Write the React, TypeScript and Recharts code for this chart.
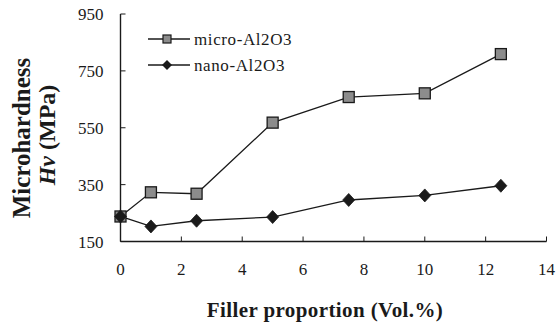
import React from "react";
import { LineChart, Line, XAxis, YAxis } from "recharts";

const fillerProportion = [0, 1, 2.5, 5, 7.5, 10, 12.5];
const microAl2O3 = [238, 323, 318, 568, 658, 671, 809];
const nanoAl2O3 = [238, 203, 223, 236, 296, 312, 346];
const xTicks = [0, 2, 4, 6, 8, 10, 12, 14];
const yTicks = [150, 350, 550, 750, 950];
const seriesNames = ["micro-Al2O3", "nano-Al2O3"];

const data = fillerProportion.map((x, i) => ({
  x,
  micro: microAl2O3[i],
  nano: nanoAl2O3[i],
}));

const FONT = "'Liberation Serif', 'Times New Roman', serif";
const INK = "#1a1a1a";

const SquareDot = (props: any) => {
  const { cx, cy, index } = props;
  if (cx == null || cy == null) return null;
  return (
    <rect key={`sq-${index}`} x={cx - 5.5} y={cy - 5.5} width={11} height={11}
      fill="#8c8c8c" stroke={INK} strokeWidth={1.3} />
  );
};

const DiamondDot = (props: any) => {
  const { cx, cy, index } = props;
  if (cx == null || cy == null) return null;
  return (
    <path key={`dm-${index}`} d={`M${cx},${cy - 6.5} L${cx + 6},${cy} L${cx},${cy + 6.5} L${cx - 6},${cy} Z`}
      fill={INK} stroke={INK} strokeWidth={0.8} />
  );
};

// legend drawn inside the plot, top-left
const LegendSvg = () => (
  <g fontFamily={FONT} fontSize={17} fontWeight="normal" fill={INK}>
    <line x1={148} y1={39} x2={190} y2={39} stroke={INK} strokeWidth={1.3} />
    <rect x={163} y={35} width={8} height={8} fill="#8c8c8c" stroke={INK} strokeWidth={1.2} />
    <text x={194} y={39} dominantBaseline="central" letterSpacing={0.6}>{seriesNames[0]}</text>
    <line x1={148} y1={65} x2={190} y2={65} stroke={INK} strokeWidth={1.3} />
    <path d="M167,60 L172,65 L167,70 L162,65 Z" fill={INK} />
    <text x={194} y={65} dominantBaseline="central" letterSpacing={0.6}>{seriesNames[1]}</text>
  </g>
);

const YTitle = () => (
  <g>
    <g fontFamily={FONT} fontWeight="bold" fill={INK}>
      <text x={21} y={138} fontSize={25} textAnchor="middle" dominantBaseline="central"
        transform="rotate(-90, 21, 138)">Microhardness</text>
      <text x={47} y={135} fontSize={24} textAnchor="middle" dominantBaseline="central"
        transform="rotate(-90, 47, 135)">
        <tspan fontStyle="italic">Hv</tspan> (MPa)
      </text>
    </g>
    <LegendSvg />
  </g>
);

const XTitle = () => (
  <text x={325} y={317} fontFamily={FONT} fontWeight="bold" fontSize={21} fill={INK}
    textAnchor="middle" letterSpacing={0.4}>Filler proportion (Vol.%)</text>
);

export default function App() {
  const tickStyle = { fontFamily: FONT, fontSize: 17, fill: INK };
  return (
    <div style={{ fontFamily: FONT }}>
      <style>{"body{margin:0;background:#fff} .recharts-cartesian-axis-tick-value{font-family:'Liberation Serif',serif}"}</style>
      <LineChart width={556} height={324} data={data} style={{ fontFamily: FONT }}
        margin={{ top: 14, right: 9.5, bottom: 0, left: 0 }}>
        <XAxis dataKey="x" type="number" domain={[0, 14]} ticks={xTicks}
          height={82.5} tick={tickStyle} tickSize={-5} tickMargin={26}
          axisLine={{ stroke: INK, strokeWidth: 1.4 }} tickLine={{ stroke: INK }}
          label={{ content: () => <XTitle /> }} />
        <XAxis xAxisId="top" dataKey="x" type="number" domain={[0, 14]} orientation="top"
          height={0} tick={false} tickLine={false} axisLine={{ stroke: INK, strokeWidth: 1.2 }} />
        <YAxis type="number" domain={[150, 950]} ticks={yTicks} width={120.5}
          tick={tickStyle} tickSize={-5} tickMargin={22}
          axisLine={{ stroke: INK, strokeWidth: 1.4 }} tickLine={{ stroke: INK }}
          label={{ content: () => <YTitle /> }} />
        <YAxis yAxisId="right" orientation="right" domain={[150, 950]} width={0}
          tick={false} tickLine={false} axisLine={{ stroke: INK, strokeWidth: 1.2 }} />
        <Line dataKey="micro" name={seriesNames[0]} stroke={INK} strokeWidth={1.3}
          dot={SquareDot} activeDot={false} isAnimationActive={false} />
        <Line dataKey="nano" name={seriesNames[1]} stroke={INK} strokeWidth={1.3}
          dot={DiamondDot} activeDot={false} isAnimationActive={false} />
      </LineChart>
    </div>
  );
}
